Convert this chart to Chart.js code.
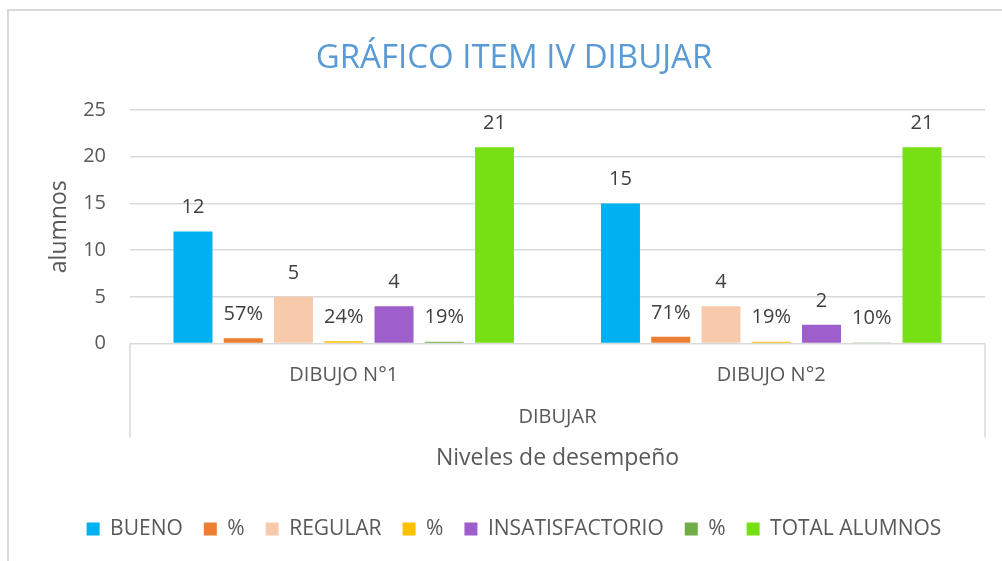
<!DOCTYPE html>
<html>
<head>
<meta charset="utf-8">
<script src="https://cdn.jsdelivr.net/npm/chart.js@4.4.0/dist/chart.umd.min.js"></script>
<style>
  html, body { margin: 0; padding: 0; background: #fff; overflow: hidden; }
  #wrap { width: 1020px; height: 561px; }
</style>
</head>
<body>
<div id="wrap"><canvas id="chart" width="1020" height="561"></canvas></div>
<script>
// data
const categories = ['DIBUJO N°1', 'DIBUJO N°2'];
const groupLabels = ['DIBUJAR'];
const bueno = [12, 15];
const buenoPct = [0.57, 0.71];
const regular = [5, 4];
const regularPct = [0.24, 0.19];
const insatisfactorio = [4, 2];
const insatisfactorioPct = [0.19, 0.10];
const totalAlumnos = [21, 21];
const yTicks = [0, 5, 10, 15, 20, 25];

Chart.defaults.font.family = '"Open Sans", sans-serif';
Chart.defaults.color = '#595959';

function series(label, data, color, pct) {
  return {
    label: label,
    data: data,
    backgroundColor: color,
    borderWidth: 0,
    pct: pct,
    xAxisID: 'x',
    yAxisID: 'y',
    categoryPercentage: 0.823,
    barPercentage: 0.776
  };
}

// white background + outer frame
const frame = {
  id: 'frame',
  beforeDraw(chart) {
    const ctx = chart.ctx;
    ctx.save();
    ctx.fillStyle = '#fff';
    ctx.fillRect(0, 0, chart.width, chart.height);
    ctx.strokeStyle = '#d9d9d9';
    ctx.lineWidth = 2;
    ctx.strokeRect(8, 10, chart.width + 20, chart.height + 20);
    ctx.restore();
  },
  afterDraw(chart) {
    // the multi-level category box (left and right sides)
    const x = chart.scales.x;
    const x2 = chart.scales.x2;
    const bottom = x2.top + 30;
    const ctx = chart.ctx;
    ctx.save();
    ctx.strokeStyle = '#d9d9d9';
    ctx.lineWidth = 1.5;
    ctx.beginPath();
    ctx.moveTo(x.left, x.top);
    ctx.lineTo(x.left, bottom);
    ctx.moveTo(x.right, x.top);
    ctx.lineTo(x.right, bottom);
    ctx.stroke();
    ctx.restore();
  }
};

// value labels above the bars
const valueLabels = {
  id: 'valueLabels',
  afterDatasetsDraw(chart) {
    const ctx = chart.ctx;
    ctx.save();
    ctx.font = '20px "Open Sans"';
    ctx.fillStyle = '#404040';
    ctx.textAlign = 'center';
    ctx.textBaseline = 'middle';
    chart.data.datasets.forEach((ds, i) => {
      chart.getDatasetMeta(i).data.forEach((bar, j) => {
        const v = ds.data[j];
        const txt = ds.pct ? Math.round(v * 100) + '%' : String(v);
        ctx.fillText(txt, bar.x, bar.y - 24);
      });
    });
    ctx.restore();
  }
};

new Chart(document.getElementById('chart'), {
  type: 'bar',
  data: {
    labels: categories,
    datasets: [
      series('BUENO', bueno, '#00B0F0', false),
      series('%', buenoPct, '#ED7D31', true),
      series('REGULAR', regular, '#F7CAAC', false),
      series('%', regularPct, '#FFC000', true),
      series('INSATISFACTORIO', insatisfactorio, '#9E5FCC', false),
      series('%', insatisfactorioPct, '#70AD47', true),
      series('TOTAL ALUMNOS', totalAlumnos, '#76E014', false)
    ]
  },
  options: {
    responsive: false,
    animation: false,
    layout: { padding: { left: 8, top: 10, right: 0, bottom: 11.5 } },
    plugins: {
      title: {
        display: true,
        text: 'GRÁFICO ITEM IV DIBUJAR',
        color: '#5B9BD5',
        font: { size: 33, weight: 'normal' },
        padding: { top: 28.7, bottom: 31.7 }
      },
      legend: {
        position: 'bottom',
        labels: {
          boxWidth: 13,
          boxHeight: 13,
          padding: 21,
          color: '#595959',
          font: { size: 21 }
        }
      },
      tooltip: { enabled: false }
    },
    scales: {
      x: {
        type: 'category',
        position: 'bottom',
        weight: 1,
        offset: true,
        grid: { display: false, drawTicks: false },
        border: { display: false },
        ticks: { padding: 20, color: '#595959', font: { size: 20 } },
        afterFit(s) { s.height = 64; }
      },
      x2: {
        type: 'category',
        position: 'bottom',
        weight: 2,
        labels: groupLabels,
        offset: true,
        grid: { display: false, drawTicks: false },
        border: { display: false },
        ticks: { padding: 0, color: '#595959', font: { size: 20, lineHeight: 1 } },
        title: {
          display: true,
          text: 'Niveles de desempeño',
          color: '#595959',
          font: { size: 23 },
          padding: { top: 0, bottom: 25.2 }
        },
        afterFit(s) { s.height = 90; }
      },
      y: {
        min: 0,
        max: 25,
        afterBuildTicks(s) { s.ticks = yTicks.map(v => ({ value: v })); },
        grid: { color: '#d9d9d9', lineWidth: 1.5, drawTicks: false },
        border: { display: false },
        ticks: { padding: 24, color: '#595959', font: { size: 20 } },
        title: {
          display: true,
          text: 'alumnos',
          color: '#595959',
          font: { size: 23 },
          padding: { top: 38, bottom: 0 }
        },
        afterFit(s) { s.width = 122; }
      },
      yr: {
        type: 'linear',
        position: 'right',
        grid: { display: false },
        border: { display: false },
        ticks: { display: false },
        afterFit(s) { s.width = 35; }
      }
    }
  },
  plugins: [frame, valueLabels]
});
</script>
</body>
</html>
